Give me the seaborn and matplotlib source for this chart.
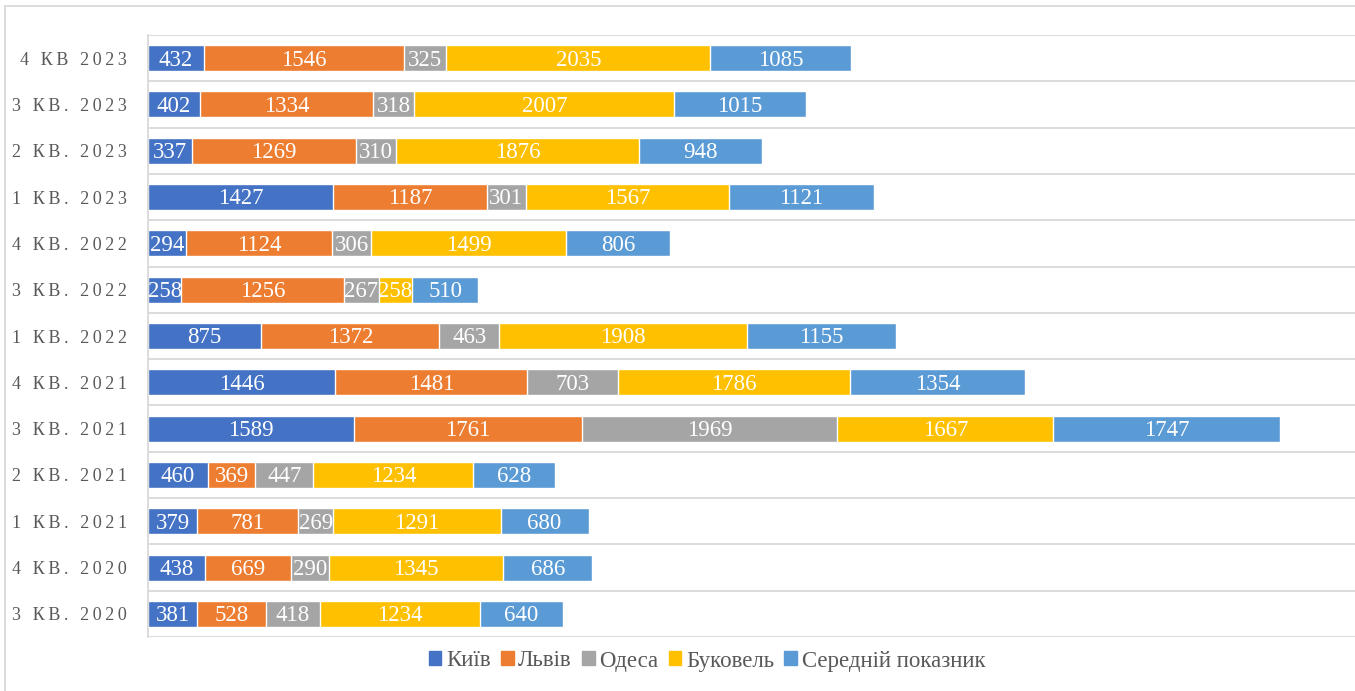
import numpy as np
import pandas as pd
import matplotlib
matplotlib.use("Agg")
import matplotlib.pyplot as plt
from matplotlib.patches import Rectangle
import seaborn as sns

# Quarters, listed from the top of the chart downwards
quarters = ["4 КВ 2023", "3 КВ. 2023", "2 КВ. 2023", "1 КВ. 2023", "4 КВ. 2022",
            "3 КВ. 2022", "1 КВ. 2022", "4 КВ. 2021", "3 КВ. 2021", "2 КВ. 2021",
            "1 КВ. 2021", "4 КВ. 2020", "3 КВ. 2020"]

series_names = ["Київ", "Львів", "Одеса", "Буковель", "Середній показник"]

kyiv    = [432, 402, 337, 1427, 294, 258, 875, 1446, 1589, 460, 379, 438, 381]
lviv    = [1546, 1334, 1269, 1187, 1124, 1256, 1372, 1481, 1761, 369, 781, 669, 528]
odesa   = [325, 318, 310, 301, 306, 267, 463, 703, 1969, 447, 269, 290, 418]
bukovel = [2035, 2007, 1876, 1567, 1499, 258, 1908, 1786, 1667, 1234, 1291, 1345, 1234]
average = [1085, 1015, 948, 1121, 806, 510, 1155, 1354, 1747, 628, 680, 686, 640]

colors = ["#4472C4", "#ED7D31", "#A5A5A5", "#FFC000", "#5B9BD5"]

sns.set_theme(style="white")
plt.rcParams["font.family"] = ["Liberation Serif", "DejaVu Serif"]

values = np.array([kyiv, lviv, odesa, bukovel, average], dtype=float)
cum = np.cumsum(values, axis=0)

fig = plt.figure(figsize=(13.55, 6.91), dpi=100)
ax = fig.add_axes([148 / 1355, 1 - 637 / 691, 1 - 148 / 1355, (637 - 35) / 691])

# Stacked bars: draw cumulative totals from the outermost segment inwards
for i in range(len(series_names) - 1, -1, -1):
    df = pd.DataFrame({"quarter": quarters, "total": cum[i]})
    sns.barplot(data=df, x="total", y="quarter", orient="h", color=colors[i],
                width=0.56, saturation=1, ax=ax, order=quarters)

# Value labels centred on each segment
for i in range(len(series_names)):
    starts = cum[i] - values[i]
    for j, q in enumerate(quarters):
        ax.text(starts[j] + values[i][j] / 2, j + 0.04, f"{int(values[i][j])}",
                ha="center", va="center", color="white", fontsize=16.5)

ax.set_xlim(0, 9313)
ax.set_ylim(len(quarters) - 0.5, -0.5)
ax.set_xlabel("")
ax.set_ylabel("")
ax.set_xticks([])

# Horizontal gridlines on category boundaries
for b in np.arange(-0.5, len(quarters), 1.0):
    ax.axhline(b, color="#D9D9D9", lw=1.3, zorder=0)

for side in ["top", "right", "bottom"]:
    ax.spines[side].set_visible(False)
ax.spines["left"].set_color("#D9D9D9")
ax.spines["left"].set_linewidth(1.3)

# Letter-spaced quarter labels
spaced = ["\u2009".join(list(q)) for q in quarters]
ax.set_yticks(range(len(quarters)))
ax.set_yticklabels(spaced, fontsize=13, color="#595959")
ax.tick_params(axis="y", length=0, pad=15)
for lbl in ax.get_yticklabels():
    lbl.set_y(lbl.get_position()[1])

handles = [Rectangle((0, 0), 1, 1, color=c) for c in colors]
fig.legend(handles, series_names, loc="center", bbox_to_anchor=(707 / 1355, 1 - 661 / 691),
           ncol=5, frameon=False, fontsize=16.5, handlelength=0.55, handleheight=0.55,
           handletextpad=0.2, columnspacing=0.45, labelcolor="#595959")

# Chart border (left and top edges fall inside the canvas)
fig.patches.append(Rectangle((5 / 1355, -0.05), 1.1, 1.05 - 6 / 691,
                             transform=fig.transFigure, fill=False,
                             edgecolor="#D9D9D9", lw=1.3))

fig.savefig("out.png", dpi=100)
